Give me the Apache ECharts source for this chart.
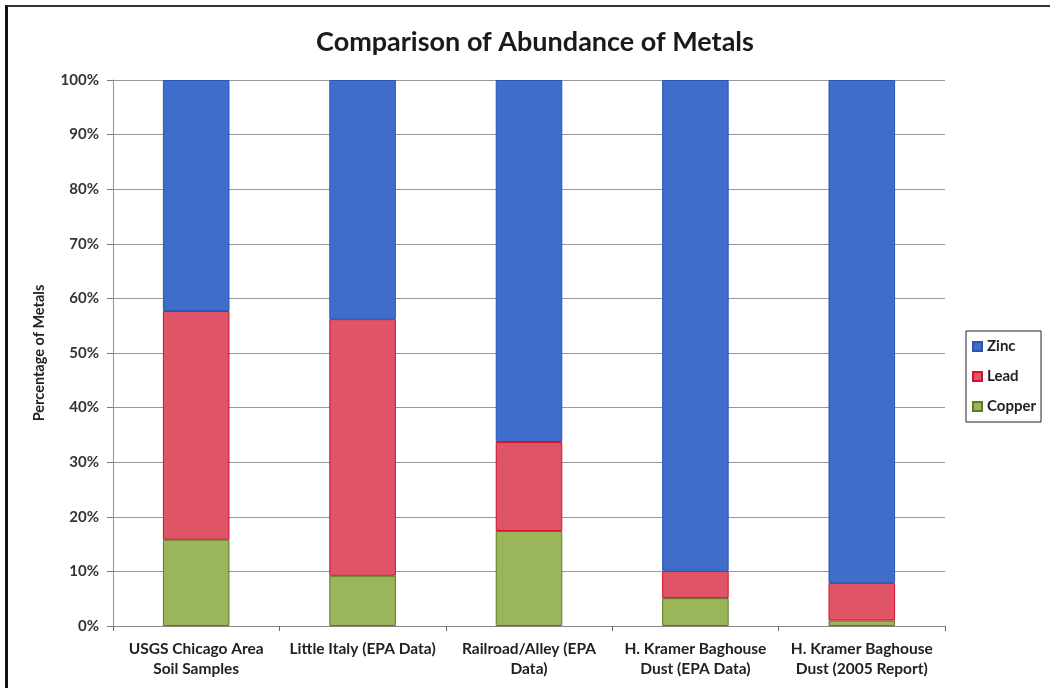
<!DOCTYPE html>
<html><head><meta charset="utf-8">
<script src="https://cdn.jsdelivr.net/npm/echarts@6/dist/echarts.min.js"></script>
<style>
html,body{margin:0;padding:0;background:#fff;}
#frame{position:absolute;left:0;top:0;width:1050px;height:688px;}
#border{position:absolute;left:5px;top:5px;width:1050px;height:690px;border-left:3px solid #111;border-top:2px solid #333;box-sizing:border-box;pointer-events:none;}
#c{position:absolute;left:0;top:0;width:1050px;height:688px;}
</style></head>
<body>
<div id="frame"><div id="c"></div><div id="border"></div></div>
<script>
const categories = ["USGS Chicago Area\nSoil Samples", "Little Italy (EPA Data)", "Railroad/Alley (EPA\nData)", "H. Kramer Baghouse\nDust (EPA Data)", "H. Kramer Baghouse\nDust (2005 Report)"];
const copper = [15.8, 9.2, 17.4, 5.1, 1.0];
const lead = [41.9, 47.0, 16.3, 5.0, 6.9];
const zinc = [42.3, 43.8, 66.3, 89.9, 92.1];
const yTicks = [0, 10, 20, 30, 40, 50, 60, 70, 80, 90, 100];

const font = 'Lato, "Open Sans", sans-serif';
const chart = echarts.init(document.getElementById('c'), null, {renderer: 'canvas'});
chart.setOption({
  animation: false,
  backgroundColor: '#fff',
  title: {
    text: 'Comparison of Abundance of Metals',
    left: 530, top: 24, textAlign: 'center',
    textStyle: {fontFamily: font, fontWeight: 'bold', fontSize: 27, color: '#1a1a1a'}
  },
  legend: {
    orient: 'vertical', left: 966, top: 331,
    data: ['Zinc', 'Lead', 'Copper'],
    itemWidth: 9, itemHeight: 9, itemGap: 15, icon: 'rect',
    borderColor: '#222', borderWidth: 1, padding: [8, 5, 8, 6],
    textStyle: {fontFamily: font, fontWeight: 'bold', fontSize: 15, color: '#222'}
  },
  grid: {left: 113, right: 105, top: 80, bottom: 62, containLabel: false},
  xAxis: {
    type: 'category', data: categories,
    axisLine: {lineStyle: {color: '#888'}},
    axisTick: {show: true, length: 5, lineStyle: {color: '#666'}},
    axisLabel: {interval: 0, fontFamily: font, fontWeight: 'bold', fontSize: 15.5, color: '#222', lineHeight: 20, margin: 13}
  },
  yAxis: {
    type: 'value', min: 0, max: 100, interval: 10,
    name: 'Percentage of Metals', nameLocation: 'middle', nameGap: 66, nameRotate: 90,
    nameTextStyle: {fontFamily: font, fontWeight: 'bold', fontSize: 14.5, color: '#222'},
    axisLine: {show: true, lineStyle: {color: '#8890b0'}},
    axisTick: {show: true, length: 6, inside: false, lineStyle: {color: '#777'}},
    splitLine: {lineStyle: {color: '#999', width: 1}},
    axisLabel: {fontFamily: font, fontWeight: 'bold', fontSize: 15, color: '#333', margin: 14,
      formatter: v => yTicks.includes(v) ? v + '%' : ''}
  },
  series: [
    {name: 'Copper', type: 'bar', stack: 'm', data: copper, barWidth: '40%',
     itemStyle: {color: '#9bb55a', borderColor: '#5e7a22', borderWidth: 1}},
    {name: 'Lead', type: 'bar', stack: 'm', data: lead, barWidth: '40%',
     itemStyle: {color: '#e05468', borderColor: '#d0102c', borderWidth: 1}},
    {name: 'Zinc', type: 'bar', stack: 'm', data: zinc, barWidth: '40%',
     itemStyle: {color: '#3f6dc9', borderColor: '#2a55b8', borderWidth: 1}}
  ]
});
</script>
</body></html>
